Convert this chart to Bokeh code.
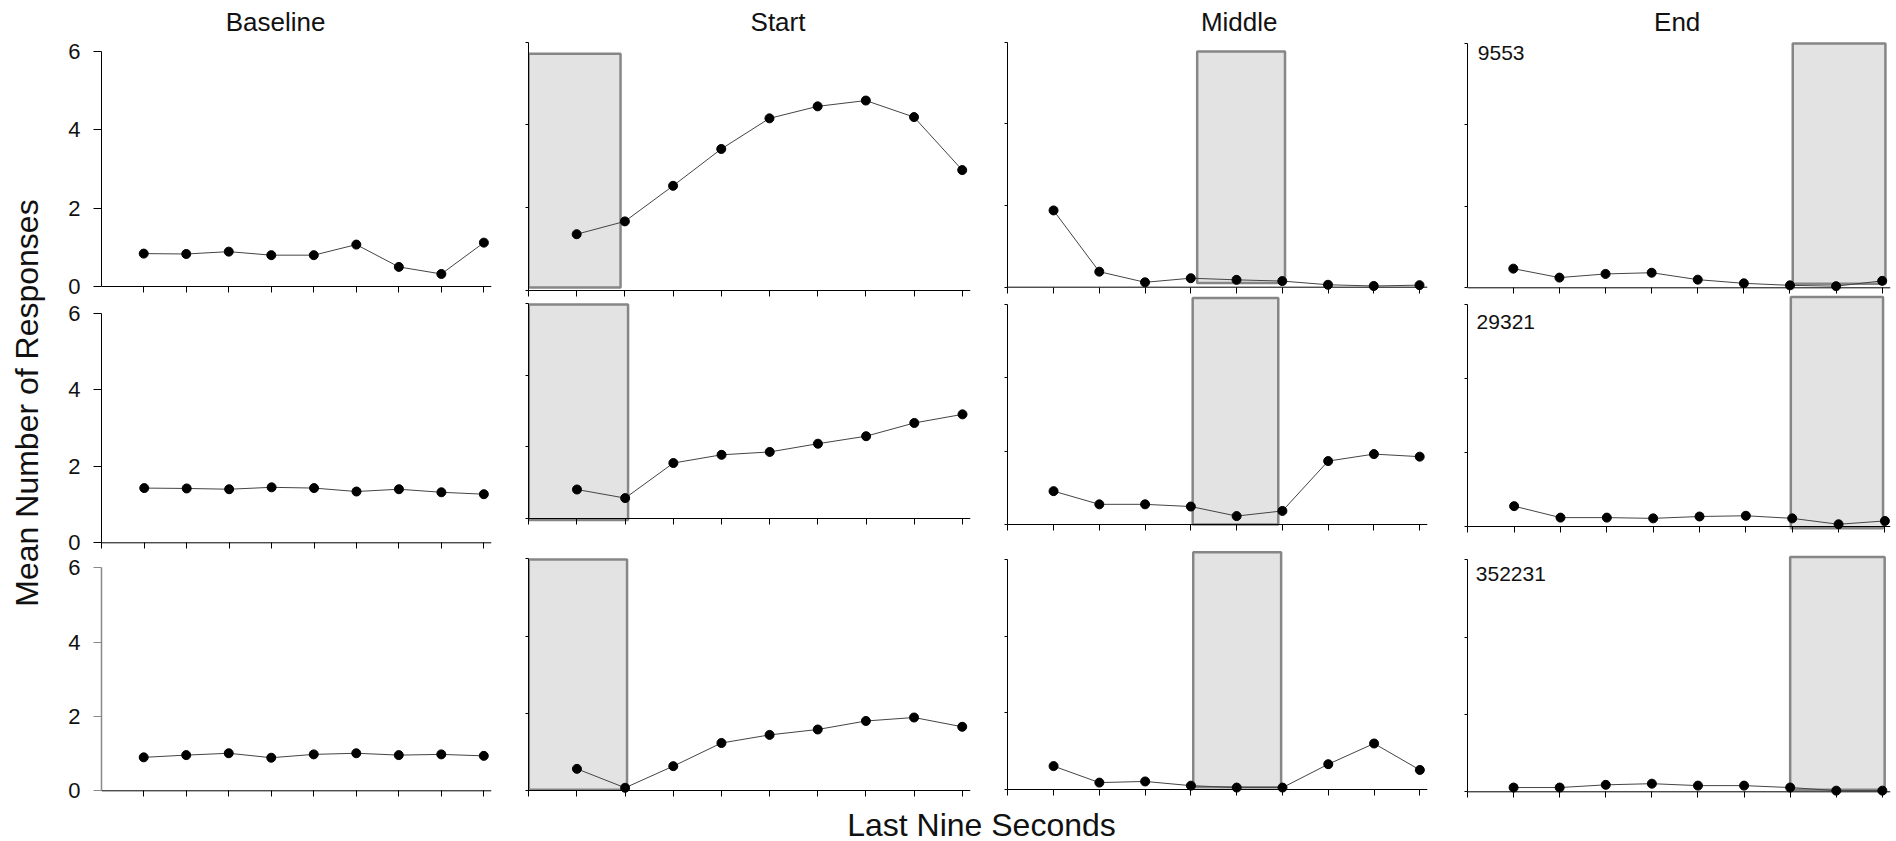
import math
from bokeh.plotting import figure
from bokeh.layouts import row, column
from bokeh.models import Range1d, FixedTicker, Span, Label, CustomJSTickFormatter
from bokeh.core.properties import value
from bokeh.embed import file_html
from bokeh.resources import INLINE

# ---------------- data ----------------
PHASES = ["Baseline", "Start", "Middle", "End"]
SUBJECTS = ["9553", "29321", "352231"]
SECONDS = [1, 2, 3, 4, 5, 6, 7, 8, 9]
Y_TICKS = [0, 2, 4, 6]
X_TICKS = [0, 1, 2, 3, 4, 5, 6, 7, 8, 9]
X_LABEL = "Last Nine Seconds"
Y_LABEL = "Mean Number of Responses"

BASELINE = [
    [0.84, 0.83, 0.89, 0.80, 0.80, 1.07, 0.50, 0.32, 1.12],
    [1.43, 1.42, 1.40, 1.45, 1.43, 1.34, 1.40, 1.32, 1.27],
    [0.90, 0.96, 1.01, 0.89, 0.98, 1.01, 0.96, 0.98, 0.94],
]
START = [
    [1.36, 1.67, 2.53, 3.42, 4.16, 4.45, 4.59, 4.19, 2.91],
    [0.81, 0.57, 1.55, 1.78, 1.86, 2.09, 2.30, 2.67, 2.91],
    [0.56, 0.07, 0.63, 1.23, 1.44, 1.58, 1.80, 1.89, 1.65],
]
MIDDLE = [
    [1.88, 0.38, 0.12, 0.22, 0.18, 0.15, 0.06, 0.03, 0.05],
    [0.91, 0.55, 0.55, 0.49, 0.23, 0.37, 1.73, 1.92, 1.85],
    [0.61, 0.18, 0.21, 0.10, 0.05, 0.05, 0.66, 1.20, 0.51],
]
END = [
    [0.47, 0.25, 0.34, 0.37, 0.20, 0.11, 0.06, 0.04, 0.17],
    [0.55, 0.24, 0.24, 0.22, 0.27, 0.29, 0.22, 0.06, 0.15],
    [0.11, 0.11, 0.18, 0.21, 0.16, 0.16, 0.11, 0.03, 0.03],
]
# shaded windows (left, right, bottom, top) per subject
BOX_START = [[0.0, 1.91, 0.07, 5.72], [0.0, 2.06, -0.04, 5.98], [0.0, 2.04, 0.02, 5.98]]
BOX_MIDDLE = [[4.14, 6.06, 0.10, 5.77], [4.04, 5.91, 0.0, 6.18], [4.05, 5.97, 0.06, 6.19]]
BOX_END = [[7.06, 9.07, 0.10, 5.99], [6.97, 8.96, -0.05, 6.20], [7.0, 9.05, 0.05, 6.07]]

SERIES = [BASELINE, START, MIDDLE, END]
BOXES = [None, BOX_START, BOX_MIDDLE, BOX_END]

# ---------------- layout geometry (page pixels) ----------------
# (x of 0, x of 9, y of 0, y of 6) for every panel, [row][col]
GEOM = [
    [(97.7, 484.3, 286.0, 51.0), (528.0, 962.7, 290.0, 41.7),
     (1007.3, 1419.0, 286.7, 41.7), (1466.7, 1881.7, 287.3, 42.7)],
    [(98.3, 483.3, 542.3, 312.7), (528.3, 962.0, 518.0, 303.3),
     (1007.3, 1430.0, 524.0, 304.0), (1464.3, 1889.3, 526.0, 304.0)],
    [(100.7, 483.3, 790.3, 567.3), (528.3, 962.7, 790.0, 558.3),
     (1007.3, 1422.3, 789.0, 559.0), (1464.0, 1886.7, 791.3, 559.3)],
]
LABEL_POS = [(0.23, 5.75), (0.19, 5.52), (0.18, 5.64)]
COL_EDGES = [50, 505, 988, 1450, 1896]
ROW_EDGES = [[36, 300, 556, 805], [36, 298, 540, 805], [36, 294, 540, 805], [36, 294, 540, 805]]
TOP_H = 36
BOTTOM_H = 36
FONT = "Liberation Sans"

BLANK = CustomJSTickFormatter(code="return ''")


def make_panel(r, c):
    vals = SERIES[c][r]
    box = BOXES[c][r] if BOXES[c] is not None else None
    x0, x9, y0, y6 = GEOM[r][c]
    dx = (x9 - x0) / 9.0
    s = (y0 - y6) / 6.0
    L, R = COL_EDGES[c], COL_EDGES[c + 1]
    T, B = ROW_EDGES[c][r], ROW_EDGES[c][r + 1]
    top_val = 6.0 if box is None else max(6.0, box[3])
    f_left = int(round(x0))
    f_right = min(int(round(x9 + 8)), R - 1)
    f_top = max(int(math.floor(y0 - top_val * s - 2)), T)
    f_bottom = min(int(round(y0 + 6)), B)
    xs = (f_left - x0) / dx
    xe = (f_right - x0) / dx
    ys = -(f_bottom - y0) / s
    ye = (y0 - f_top) / s

    p = figure(width=R - L, height=B - T,
               x_range=Range1d(xs, xe), y_range=Range1d(ys, ye),
               output_backend="svg", toolbar_location=None,
               min_border_left=f_left - L, min_border_right=R - f_right,
               min_border_top=f_top - T, min_border_bottom=B - f_bottom,
               outline_line_color=None, background_fill_color="white",
               border_fill_color="white")
    p.xgrid.visible = False
    p.ygrid.visible = False

    # x axis: ticks only, zero line drawn as span
    p.xaxis.ticker = FixedTicker(ticks=X_TICKS)
    p.xaxis.bounds = (0, 9)
    p.xaxis.axis_line_alpha = 0
    p.xaxis.major_tick_in = int(round(f_bottom - y0))
    p.xaxis.major_tick_out = 0
    p.xaxis.major_tick_line_color = "black"
    p.xaxis.minor_tick_line_color = None
    p.xaxis.formatter = BLANK
    p.xaxis.major_label_text_font_size = "1px"
    p.xaxis.major_label_standoff = 0

    axis_col = "#888888" if (c == 0 and r == 2) else "black"
    p.yaxis.ticker = FixedTicker(ticks=Y_TICKS)
    p.yaxis.bounds = (0, 6)
    p.yaxis.axis_line_color = axis_col
    p.yaxis.axis_line_width = 1.5 if (c == 0 and r == 2) else 1
    p.yaxis.major_tick_line_color = axis_col
    p.yaxis.minor_tick_line_color = None
    p.yaxis.major_tick_in = 0
    if c == 0:
        p.yaxis.major_tick_out = 8
        p.yaxis.major_label_standoff = 13
        p.yaxis.major_label_text_font = FONT
        p.yaxis.major_label_text_font_size = "22px"
        p.yaxis.major_label_text_color = "#111111"
    else:
        p.yaxis.major_tick_out = 3
        p.yaxis.formatter = BLANK
        p.yaxis.major_label_text_font_size = "1px"
        p.yaxis.major_label_standoff = 0

    p.add_layout(Span(location=0, dimension="width", line_color="black", line_width=1))

    if box is not None:
        p.quad(left=[box[0]], right=[box[1]], bottom=[box[2]], top=[box[3]],
               fill_color="#e3e3e3", line_color="#868686", line_width=2.5)

    p.line(SECONDS, vals, line_color="#444444", line_width=1)
    p.scatter(SECONDS, vals, size=9, fill_color="black", line_color="black")

    if c == 3:
        lx, ly = LABEL_POS[r]
        p.add_layout(Label(x=lx, y=ly, text=SUBJECTS[r], text_font=FONT,
                           text_font_size="21px", text_align="left",
                           text_baseline="middle", text_color="#111111"))
    return p


def strip(width, height, x_range, y_range):
    f = figure(width=width, height=height, x_range=x_range, y_range=y_range,
               output_backend="svg", toolbar_location=None,
               x_axis_type=None, y_axis_type=None,
               min_border_left=0, min_border_right=0, min_border_top=0, min_border_bottom=0,
               outline_line_color=None, background_fill_color="white",
               border_fill_color="white")
    f.xgrid.visible = False
    f.ygrid.visible = False
    return f


columns = []
for c in range(4):
    columns.append(column(*[make_panel(r, c) for r in range(3)], spacing=0))

# strip with phase titles
top = strip(1896, TOP_H, Range1d(0, 1896), Range1d(TOP_H, 0))
top.text(x=[275, 777.5, 1238.7, 1676.7], y=[21, 21, 21, 21], text=PHASES,
         text_font=value(FONT), text_font_size="26px", text_align="center",
         text_baseline="middle", text_color="#111111")

# strip with y label
mid_top, mid_bot = ROW_EDGES[0][0], ROW_EDGES[0][3]
ylab = strip(COL_EDGES[0], mid_bot - mid_top, Range1d(0, COL_EDGES[0]), Range1d(mid_bot, mid_top))
ylab.text(x=[26.5], y=[402.5], text=[Y_LABEL], angle=math.pi / 2,
          text_font=value(FONT), text_font_size="32px", text_align="center",
          text_baseline="middle", text_color="#111111")

# strip with x label
bot = strip(1896, BOTTOM_H, Range1d(0, 1896), Range1d(mid_bot + BOTTOM_H, mid_bot))
bot.text(x=[981], y=[824], text=[X_LABEL],
         text_font=value(FONT), text_font_size="32px", text_align="center",
         text_baseline="middle", text_color="#111111")

layout = column(top, row(ylab, *columns, spacing=0), bot, spacing=0)

open("out.html", "w").write(file_html(layout, INLINE, title="Mean Number of Responses"))
